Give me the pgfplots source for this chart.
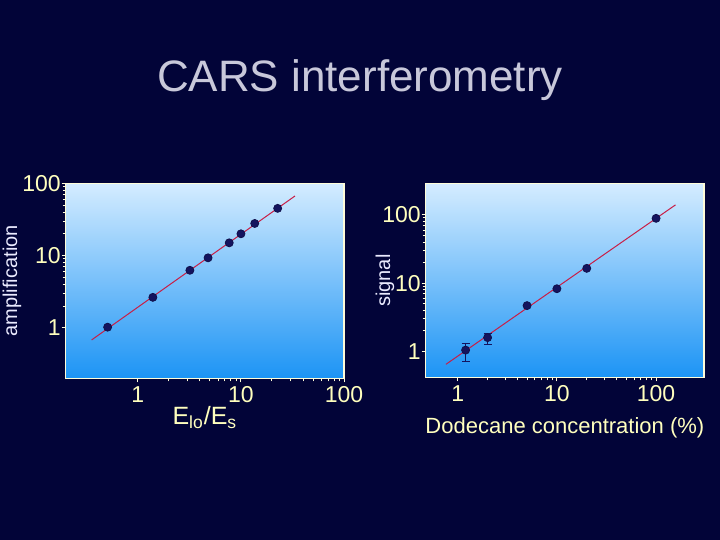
\documentclass[border=0pt]{standalone}
\usepackage{fontspec}
\setmainfont{Liberation Sans}
\usepackage{pgfplots}
\pgfplotsset{compat=1.18}
\definecolor{bgnavy}{RGB}{2,4,56}
\definecolor{titlegray}{RGB}{200,200,218}
\definecolor{ticky}{RGB}{255,255,190}
\definecolor{paneltop}{RGB}{212,236,255}
\definecolor{panelbot}{RGB}{28,148,245}
\definecolor{dotnavy}{RGB}{20,20,95}
\definecolor{fitred}{RGB}{200,30,70}

\pgfplotsset{
  carsaxis/.style={
    scale only axis,
    width=139.2pt,
    anchor=south west,
    axis background/.style={shade, top color=paneltop, bottom color=panelbot},
    axis line style={color=white!85!yellow, line width=0.6pt},
    tick style={color=white!85!yellow, line width=0.5pt},
    tick align=outside,
    xtick pos=bottom, ytick pos=left,
    major tick length=2pt, minor tick length=1.5pt,
    xtick={1,10,100}, xticklabels={1,10,100},
    ytick={1,10,100}, yticklabels={1,10,100},
    tick label style={font=\fontsize{11.5}{12}\selectfont, color=ticky},
    xticklabel style={yshift=1.5pt},
    yticklabel style={xshift=3pt},
    /pgf/number format/assume math mode=true,
    xlabel style={font=\fontsize{11}{12}\selectfont, color=ticky},
    ylabel style={font=\fontsize{10}{11}\selectfont, color=white!92!blue},
  },
  carsfit/.style={color=fitred, line width=0.5pt, no marks},
  carsdots/.style={only marks, mark=*, mark size=2pt,
                   mark options={fill=dotnavy, draw=dotnavy!80!black}},
}

\begin{document}
\begin{tikzpicture}
\useasboundingbox (0,0) rectangle (360pt,270pt);
\fill[bgnavy] (0,0) rectangle (360pt,270pt);
\node[font=\fontsize{22}{24}\selectfont, color=titlegray] at (180pt,230pt) {CARS interferometry};

\begin{loglogaxis}[carsaxis,
  at={(32.85pt,80.85pt)}, height=97.5pt,
  xmin=0.2, xmax=100, ymin=0.2, ymax=100,
  xlabel={E\textsubscript{lo}/E\textsubscript{s}},
  xlabel style={font=\fontsize{12.5}{13}\selectfont, yshift=5pt},
  ylabel={amplification},
  ylabel style={at={(axis description cs:-0.193,0.5)}, anchor=center, rotate=0},
]
\addplot[carsfit] coordinates {(0.357,0.68) (33.4,66.7)};
\addplot[carsdots] coordinates {
  (0.51,1.02) (1.40,2.64) (3.2,6.25) (4.8,9.3)
  (7.7,15.0) (10,20.0) (13.6,27.8) (22.7,45.0)};
\end{loglogaxis}

\begin{loglogaxis}[carsaxis,
  at={(212.85pt,81.35pt)}, height=96.7pt,
  xmin=0.475, xmax=305, ymin=0.42, ymax=284,
  xlabel={Dodecane concentration (\%)},
  xlabel style={yshift=-1pt},
  ylabel={signal},
  ylabel style={at={(axis description cs:-0.146,0.5)}, anchor=center},
]
\addplot[carsfit] coordinates {(0.76,0.65) (157,140)};
\addplot[carsdots,
  error bars/.cd, y dir=both, y explicit,
  error bar style={color=dotnavy, line width=0.6pt},
  error mark options={rotate=90, mark size=2pt, color=dotnavy}]
  coordinates {
  (1.2,1.05) += (0,0.27) -= (0,0.34)
  (2,1.6) += (0,0.25) -= (0,0.31)
  (5,4.7) += (0,0) -= (0,0)
  (10,8.3) += (0,0) -= (0,0)
  (20,16.5) += (0,0) -= (0,0)
  (100,89) += (0,0) -= (0,0)};
\end{loglogaxis}
\end{tikzpicture}
\end{document}
